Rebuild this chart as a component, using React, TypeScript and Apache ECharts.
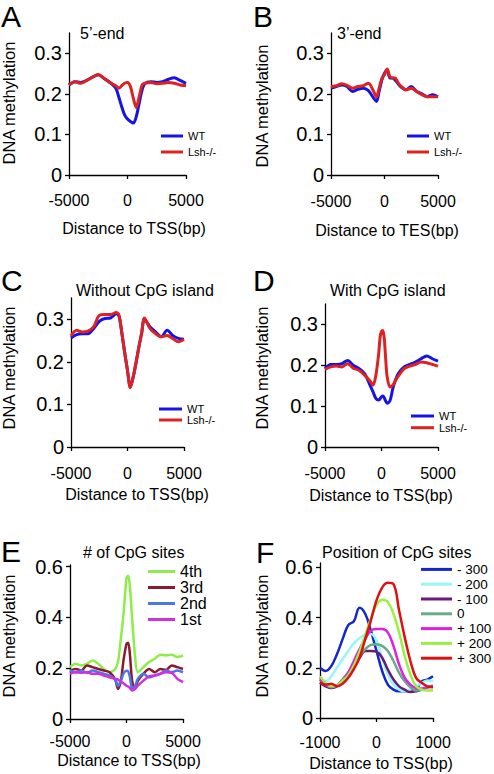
import React, { useEffect, useRef } from "react";
import * as echarts from "echarts";

// ---------- data ----------
const xTSS = [-5000, -4500, -4000, -3500, -3000, -2500, -2000, -1500, -1000, -750, -500, -250, 0, 250, 500, 750, 1000, 1250, 1500, 2000, 2500, 3000, 3500, 4000, 4500, 5000];

const aWT = [0.222, 0.230, 0.228, 0.233, 0.241, 0.247, 0.238, 0.228, 0.214, 0.193, 0.169, 0.148, 0.138, 0.132, 0.128, 0.144, 0.177, 0.210, 0.226, 0.230, 0.228, 0.230, 0.236, 0.240, 0.233, 0.226];
const aLsh = [0.222, 0.230, 0.226, 0.233, 0.241, 0.248, 0.238, 0.228, 0.220, 0.214, 0.220, 0.226, 0.228, 0.218, 0.189, 0.166, 0.193, 0.222, 0.226, 0.228, 0.225, 0.226, 0.228, 0.226, 0.222, 0.220];

const bWT = [0.214, 0.218, 0.222, 0.218, 0.206, 0.211, 0.214, 0.208, 0.189, 0.181, 0.206, 0.234, 0.251, 0.259, 0.239, 0.239, 0.234, 0.226, 0.218, 0.210, 0.218, 0.206, 0.200, 0.193, 0.198, 0.193];
const bLsh = [0.218, 0.220, 0.225, 0.221, 0.214, 0.218, 0.220, 0.226, 0.205, 0.192, 0.214, 0.238, 0.247, 0.261, 0.243, 0.239, 0.239, 0.228, 0.220, 0.210, 0.214, 0.206, 0.198, 0.193, 0.193, 0.193];

const cWT = [0.256, 0.264, 0.266, 0.266, 0.278, 0.295, 0.302, 0.303, 0.313, 0.307, 0.268, 0.222, 0.180, 0.141, 0.164, 0.197, 0.234, 0.267, 0.300, 0.282, 0.270, 0.259, 0.274, 0.262, 0.255, 0.253];
const cLsh = [0.261, 0.274, 0.270, 0.272, 0.282, 0.309, 0.311, 0.311, 0.316, 0.310, 0.268, 0.222, 0.180, 0.139, 0.164, 0.197, 0.234, 0.267, 0.303, 0.278, 0.266, 0.259, 0.262, 0.255, 0.247, 0.253];

const xD = [-5000, -4500, -4000, -3500, -3000, -2500, -2000, -1500, -1000, -750, -500, -250, -125, 0, 125, 250, 375, 500, 750, 1000, 1250, 1500, 2000, 2500, 3000, 3500, 4000, 4500, 5000];
const dWT = [0.192, 0.202, 0.202, 0.204, 0.212, 0.200, 0.192, 0.180, 0.150, 0.135, 0.119, 0.115, 0.118, 0.123, 0.125, 0.120, 0.112, 0.107, 0.113, 0.143, 0.165, 0.180, 0.196, 0.202, 0.208, 0.216, 0.223, 0.216, 0.210];
const dLsh = [0.190, 0.196, 0.198, 0.196, 0.204, 0.193, 0.188, 0.176, 0.161, 0.151, 0.175, 0.228, 0.268, 0.283, 0.285, 0.264, 0.214, 0.172, 0.147, 0.151, 0.163, 0.174, 0.192, 0.198, 0.202, 0.208, 0.206, 0.202, 0.198];

const xE = [-5000, -4500, -4000, -3500, -3000, -2500, -2000, -1500, -1000, -750, -500, -250, 0, 150, 300, 500, 750, 1000, 1500, 2000, 2500, 3000, 3500, 4000, 4500, 5000];
const e4th = [0.204, 0.217, 0.211, 0.217, 0.230, 0.217, 0.197, 0.184, 0.197, 0.224, 0.316, 0.420, 0.554, 0.564, 0.520, 0.395, 0.250, 0.184, 0.204, 0.224, 0.237, 0.253, 0.250, 0.253, 0.244, 0.250];
const e3rd = [0.191, 0.197, 0.191, 0.211, 0.204, 0.197, 0.191, 0.184, 0.155, 0.118, 0.150, 0.235, 0.295, 0.300, 0.255, 0.150, 0.120, 0.150, 0.178, 0.197, 0.184, 0.197, 0.193, 0.211, 0.204, 0.197];
const e2nd = [0.191, 0.184, 0.191, 0.182, 0.191, 0.184, 0.178, 0.171, 0.155, 0.130, 0.150, 0.180, 0.190, 0.188, 0.165, 0.120, 0.128, 0.158, 0.178, 0.164, 0.171, 0.178, 0.191, 0.184, 0.191, 0.184];
const e1st = [0.178, 0.184, 0.182, 0.184, 0.178, 0.178, 0.171, 0.164, 0.158, 0.155, 0.147, 0.140, 0.131, 0.128, 0.122, 0.112, 0.118, 0.131, 0.151, 0.168, 0.171, 0.178, 0.184, 0.182, 0.158, 0.145];

const xF = [-1000, -900, -800, -700, -600, -500, -400, -300, -200, -100, 0, 100, 200, 300, 400, 500, 600, 700, 800, 900, 1000];
const fM300 = [0.200, 0.187, 0.207, 0.254, 0.314, 0.370, 0.385, 0.439, 0.415, 0.348, 0.267, 0.187, 0.133, 0.113, 0.106, 0.106, 0.106, 0.113, 0.146, 0.153, 0.166];
const fM200 = [0.153, 0.146, 0.166, 0.200, 0.234, 0.267, 0.297, 0.318, 0.332, 0.334, 0.307, 0.240, 0.173, 0.133, 0.113, 0.106, 0.113, 0.126, 0.140, 0.149, 0.146];
const fM100 = [0.140, 0.126, 0.119, 0.126, 0.153, 0.180, 0.213, 0.240, 0.267, 0.267, 0.264, 0.240, 0.193, 0.153, 0.126, 0.113, 0.103, 0.106, 0.113, 0.122, 0.126];
const fZero = [0.160, 0.133, 0.122, 0.130, 0.153, 0.180, 0.213, 0.247, 0.274, 0.291, 0.294, 0.287, 0.267, 0.227, 0.180, 0.146, 0.122, 0.109, 0.113, 0.122, 0.130];
const fP100 = [0.153, 0.133, 0.126, 0.130, 0.149, 0.180, 0.227, 0.274, 0.314, 0.348, 0.354, 0.354, 0.341, 0.287, 0.213, 0.160, 0.133, 0.119, 0.117, 0.122, 0.126];
const fP200 = [0.166, 0.140, 0.126, 0.130, 0.149, 0.170, 0.210, 0.265, 0.330, 0.395, 0.450, 0.471, 0.462, 0.415, 0.341, 0.247, 0.173, 0.126, 0.113, 0.109, 0.109];
const fP300 = [0.140, 0.133, 0.136, 0.126, 0.136, 0.160, 0.195, 0.240, 0.314, 0.388, 0.468, 0.519, 0.538, 0.533, 0.428, 0.321, 0.227, 0.160, 0.140, 0.126, 0.122];

const ticksTSS = [-5000, 0, 5000];
const ticksF = [-1000, 0, 1000];
const ticksY35 = [0, 0.1, 0.2, 0.3];
const ticksY6 = [0, 0.2, 0.4, 0.6];

// ---------- styling ----------
const FONT = '"Liberation Sans", Arial, Helvetica, sans-serif';
const BLUE = "#1414e6";
const RED = "#dd2222";

const grids = [
  { left: 69, top: 33, width: 117, height: 142 },
  { left: 331, top: 33, width: 107, height: 142 },
  { left: 71, top: 298, width: 113, height: 149 },
  { left: 325, top: 304, width: 113, height: 143 },
  { left: 70, top: 565, width: 113, height: 154 },
  { left: 320, top: 563, width: 113, height: 155 },
];

const pairs = (xs: number[], ys: number[]) => xs.map((x, i) => [x, ys[i]]);

function xAxisCfg(gi: number, min: number, max: number, ticks: number[], margin: number) {
  return {
    type: "value",
    gridIndex: gi,
    min,
    max,
    splitLine: { show: false },
    axisLine: { show: true, onZero: false, lineStyle: { color: "#000", width: 1.3 } },
    axisTick: { show: true, length: 4, customValues: ticks, lineStyle: { color: "#000", width: 1.3 } },
    axisLabel: {
      customValues: ticks,
      margin,
      fontSize: 16,
      fontFamily: FONT,
      color: "#000",
      formatter: (v: number) => String(v),
    },
  };
}

function yAxisCfg(gi: number, max: number, ticks: number[]) {
  return {
    type: "value",
    gridIndex: gi,
    min: 0,
    max,
    splitLine: { show: false },
    axisLine: { show: true, onZero: false, lineStyle: { color: "#000", width: 1.3 } },
    axisTick: { show: true, length: 4, customValues: ticks, lineStyle: { color: "#000", width: 1.3 } },
    axisLabel: {
      customValues: ticks,
      margin: 7,
      fontSize: 20,
      fontFamily: FONT,
      color: "#000",
      formatter: (v: number) => (v === 0 ? "0" : v.toFixed(1)),
    },
  };
}

function line(name: string, gi: number, xs: number[], ys: number[], color: string, width: number, smooth: number) {
  return {
    type: "line",
    name,
    xAxisIndex: gi,
    yAxisIndex: gi,
    data: pairs(xs, ys),
    showSymbol: false,
    symbol: "none",
    smooth,
    color,
    lineStyle: { color, width },
    itemStyle: { color },
    silent: true,
  };
}

function legendCfg(names: string[], left: number, top: number, itemWidth: number, fontSize: number, lineHeight: number, itemGap: number) {
  return {
    show: true,
    data: names,
    orient: "vertical",
    left,
    top,
    padding: 0,
    itemGap,
    itemWidth,
    itemHeight: 3,
    icon: "rect",
    selectedMode: false,
    textStyle: { fontSize, lineHeight, fontFamily: FONT, color: "#000" },
  };
}

function txt(text: string, x: number, y: number, size: number, align = "left", rotation = 0) {
  return {
    type: "text",
    x,
    y,
    rotation,
    silent: true,
    style: {
      text,
      fill: "#000",
      font: `${size}px ${FONT}`,
      align,
      verticalAlign: "middle",
    },
  };
}

export default function App() {
  const ref = useRef<HTMLDivElement>(null);

  useEffect(() => {
    if (!ref.current) return;
    const chart = echarts.init(ref.current, null, { renderer: "svg", width: 494, height: 774 });

    const graphics = [
      // panel letters
      txt("A", 1, 16, 30),
      txt("B", 253, 16, 30),
      txt("C", 1, 280, 30),
      txt("D", 253, 280, 30),
      txt("E", 1, 551, 30),
      txt("F", 256, 552, 30),
      // titles
      txt("5\u2019-end", 80, 33, 16),
      txt("3\u2019-end", 337, 33, 16),
      txt("Without CpG island", 76, 290, 16),
      txt("With CpG island", 330, 290, 16),
      txt("# of CpG sites", 83, 552, 16),
      txt("Position of CpG sites", 322, 552, 16),
      // y axis names
      txt("DNA methylation", 9, 103, 16.5, "center", Math.PI / 2),
      txt("DNA methylation", 262, 106, 16.5, "center", Math.PI / 2),
      txt("DNA methylation", 9, 368, 16.5, "center", Math.PI / 2),
      txt("DNA methylation", 262, 368, 16.5, "center", Math.PI / 2),
      txt("DNA methylation", 9, 636, 16.5, "center", Math.PI / 2),
      txt("DNA methylation", 262, 636, 16.5, "center", Math.PI / 2),
      // x axis names
      txt("Distance to TSS(bp)", 134, 228, 16, "center"),
      txt("Distance to TES(bp)", 387, 230, 16, "center"),
      txt("Distance to TSS(bp)", 137, 494, 16, "center"),
      txt("Distance to TSS(bp)", 381, 495, 16, "center"),
      txt("Distance to TSS(bp)", 129, 760, 16, "center"),
      txt("Distance to TSS(bp)", 381, 763, 16, "center"),
    ];

    chart.setOption({
      animation: false,
      backgroundColor: "#fff",
      textStyle: { fontFamily: FONT },
      grid: grids,
      xAxis: [
        xAxisCfg(0, -5000, 5000, ticksTSS, 17),
        xAxisCfg(1, -5000, 5000, ticksTSS, 18),
        xAxisCfg(2, -5000, 5000, ticksTSS, 18),
        xAxisCfg(3, -5000, 5000, ticksTSS, 18),
        xAxisCfg(4, -5000, 5000, ticksTSS, 14),
        xAxisCfg(5, -1000, 1000, ticksF, 16),
      ],
      yAxis: [
        yAxisCfg(0, 0.35, ticksY35),
        yAxisCfg(1, 0.35, ticksY35),
        yAxisCfg(2, 0.35, ticksY35),
        yAxisCfg(3, 0.35, ticksY35),
        yAxisCfg(4, 0.606, ticksY6),
        yAxisCfg(5, 0.617, ticksY6),
      ],
      legend: [
        legendCfg(["WT", "Lsh-/-"], 161, 130, 22, 11, 12, 4),
        legendCfg(["WT", "Lsh-/-"], 407, 130, 22, 11, 12, 4),
        legendCfg(["WT", "Lsh-/-"], 159, 403.5, 23, 11, 11, 0),
        legendCfg(["WT", "Lsh-/-"], 411, 410.5, 23, 11, 11, 0.7),
        legendCfg(["4th", "3rd", "2nd", "1st"], 148, 563.5, 27, 16, 15.2, 0),
        legendCfg(["- 300", "- 200", "- 100", "0", "+ 100", "+ 200", "+ 300"], 421, 562, 31, 13.5, 14.8, 0),
      ],
      series: [
        line("WT", 0, xTSS, aWT, BLUE, 3, 0.3),
        line("Lsh-/-", 0, xTSS, aLsh, RED, 3, 0.3),
        line("WT", 1, xTSS, bWT, BLUE, 3, 0.3),
        line("Lsh-/-", 1, xTSS, bLsh, RED, 3, 0.3),
        line("WT", 2, xTSS, cWT, BLUE, 3, 0.3),
        line("Lsh-/-", 2, xTSS, cLsh, RED, 3, 0.3),
        line("WT", 3, xD, dWT, BLUE, 3, 0.3),
        line("Lsh-/-", 3, xD, dLsh, RED, 3, 0.3),
        line("4th", 4, xE, e4th, "#8cee4a", 2.5, 0.3),
        line("3rd", 4, xE, e3rd, "#8b1a2e", 2.5, 0.3),
        line("2nd", 4, xE, e2nd, "#4a78e8", 2.5, 0.3),
        line("1st", 4, xE, e1st, "#d030e0", 2.5, 0.3),
        line("- 300", 5, xF, fM300, "#1428c8", 2.5, 0.4),
        line("- 200", 5, xF, fM200, "#99f6f6", 2.5, 0.4),
        line("- 100", 5, xF, fM100, "#6a1a7a", 2.5, 0.4),
        line("0", 5, xF, fZero, "#6aaa8a", 2.5, 0.4),
        line("+ 100", 5, xF, fP100, "#dd22dd", 2.5, 0.4),
        line("+ 200", 5, xF, fP200, "#99f044", 2.5, 0.4),
        line("+ 300", 5, xF, fP300, "#dd1111", 2.5, 0.4),
      ],
      graphic: graphics,
    });

    return () => {
      chart.dispose();
    };
  }, []);

  return (
    <div
      ref={ref}
      style={{ position: "fixed", left: 0, top: 0, width: 494, height: 774, background: "#fff" }}
    />
  );
}
